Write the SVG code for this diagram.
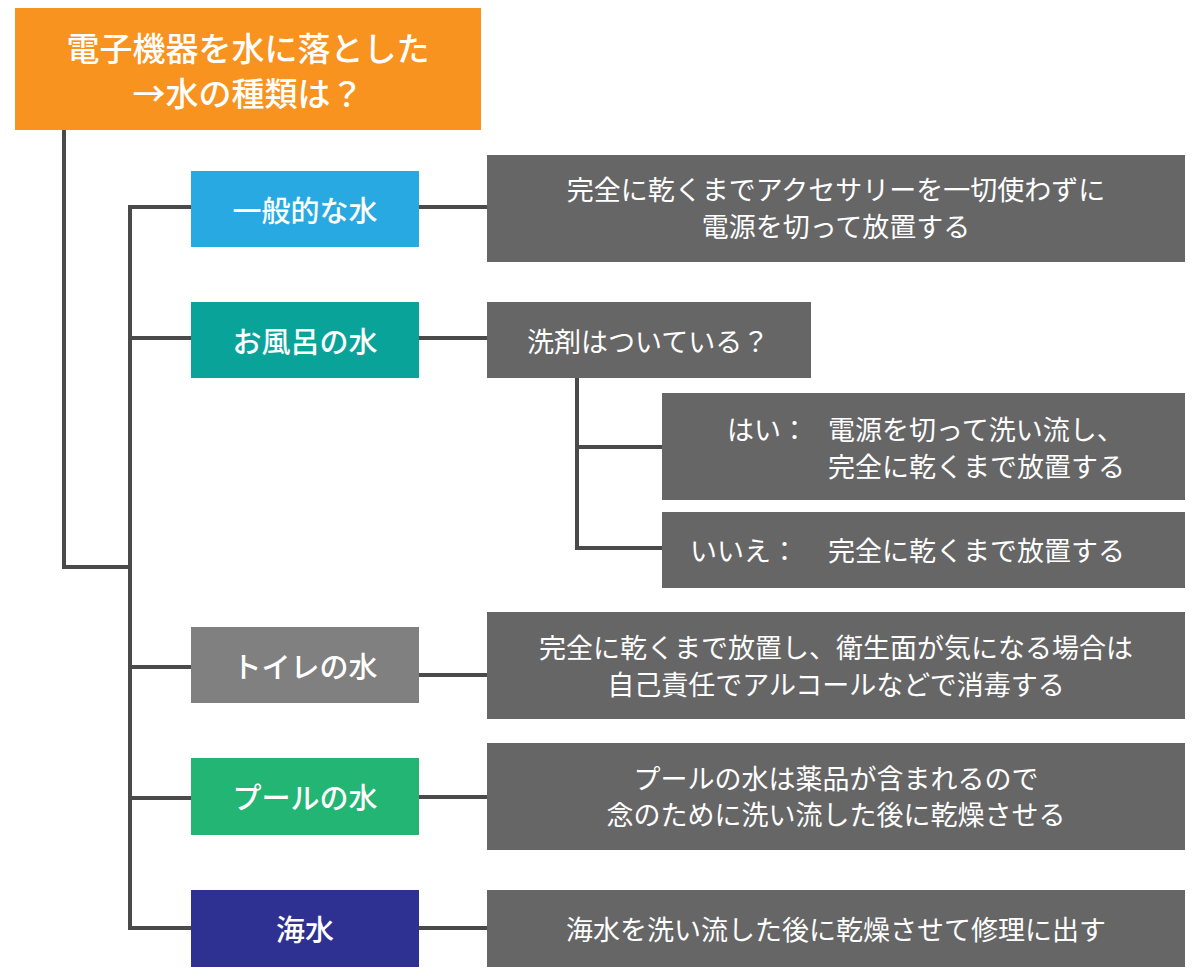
<svg xmlns="http://www.w3.org/2000/svg" width="1200" height="976" viewBox="0 0 1200 976">
<style>
.ln{stroke:#4a4a4a;stroke-width:4;fill:none;stroke-linecap:square}
.t{font-family:"Noto Sans CJK JP","Noto Sans CJK SC",sans-serif;fill:#fff;dominant-baseline:central}
.c{text-anchor:middle}
.lab{font-size:29px;font-weight:500}
.dk{fill:#666666}
.bt{font-size:27px}
</style>
<rect width="1200" height="976" fill="#ffffff"/>
<g id="connectors">
<polyline class="ln" points="64,130 64,567 130,567"/>
<line class="ln" x1="130" y1="207" x2="130" y2="928"/>
<line class="ln" x1="130" y1="207" x2="191" y2="207"/>
<line class="ln" x1="130" y1="338" x2="191" y2="338"/>
<line class="ln" x1="130" y1="667" x2="191" y2="667"/>
<line class="ln" x1="130" y1="798" x2="191" y2="798"/>
<line class="ln" x1="130" y1="928" x2="191" y2="928"/>
<line class="ln" x1="419" y1="207" x2="487" y2="207"/>
<line class="ln" x1="419" y1="338" x2="487" y2="338"/>
<line class="ln" x1="419" y1="675" x2="487" y2="675"/>
<line class="ln" x1="419" y1="797" x2="487" y2="797"/>
<line class="ln" x1="419" y1="928" x2="487" y2="928"/>
<polyline class="ln" points="577,378 577,548 662,548"/>
<line class="ln" x1="577" y1="447" x2="662" y2="447"/>
</g>
<g id="title">
<rect x="15" y="8" width="466" height="122" fill="#F7931E"/>
<text class="t c" x="248" y="47" font-size="33" font-weight="500">電子機器を水に落とした</text>
<text class="t c" x="248" y="92" font-size="33" font-weight="500">→水の種類は？</text>
</g>
<g id="n-ippan">
<rect x="191" y="171" width="228" height="76" fill="#29A9E1"/>
<text class="t c lab" x="305" y="209">一般的な水</text>
</g>
<g id="a-ippan">
<rect class="dk" x="487" y="155" width="698" height="107"/>
<text class="t c bt" x="836" y="188">完全に乾くまでアクセサリーを一切使わずに</text>
<text class="t c bt" x="836" y="225">電源を切って放置する</text>
</g>
<g id="n-furo">
<rect x="191" y="302" width="228" height="76" fill="#0AA39A"/>
<text class="t c lab" x="305" y="340">お風呂の水</text>
</g>
<g id="q-senzai">
<rect class="dk" x="487" y="302" width="324" height="76"/>
<text class="t bt" x="527" y="340">洗剤はついている？</text>
</g>
<g id="a-hai">
<rect class="dk" x="662" y="393" width="523" height="107"/>
<text class="t bt" x="727" y="428">はい：</text>
<text class="t bt" x="828" y="428">電源を切って洗い流し、</text>
<text class="t bt" x="828" y="465">完全に乾くまで放置する</text>
</g>
<g id="a-iie">
<rect class="dk" x="662" y="512" width="523" height="76"/>
<text class="t bt" x="690" y="549">いいえ：</text>
<text class="t bt" x="828" y="549">完全に乾くまで放置する</text>
</g>
<g id="n-toilet">
<rect x="191" y="627" width="228" height="76" fill="#808080"/>
<text class="t c lab" x="305" y="665">トイレの水</text>
</g>
<g id="a-toilet">
<rect class="dk" x="487" y="612" width="698" height="107"/>
<text class="t c bt" x="836" y="646">完全に乾くまで放置し、衛生面が気になる場合は</text>
<text class="t c bt" x="836" y="683">自己責任でアルコールなどで消毒する</text>
</g>
<g id="n-pool">
<rect x="191" y="758" width="228" height="77" fill="#22B573"/>
<text class="t c lab" x="305" y="796">プールの水</text>
</g>
<g id="a-pool">
<rect class="dk" x="487" y="743" width="698" height="107"/>
<text class="t c bt" x="836" y="777">プールの水は薬品が含まれるので</text>
<text class="t c bt" x="836" y="813">念のために洗い流した後に乾燥させる</text>
</g>
<g id="n-kaisui">
<rect x="191" y="890" width="228" height="77" fill="#2E3192"/>
<text class="t c lab" x="305" y="928">海水</text>
</g>
<g id="a-kaisui">
<rect class="dk" x="487" y="890" width="698" height="77"/>
<text class="t c bt" x="836" y="928">海水を洗い流した後に乾燥させて修理に出す</text>
</g>
</svg>
